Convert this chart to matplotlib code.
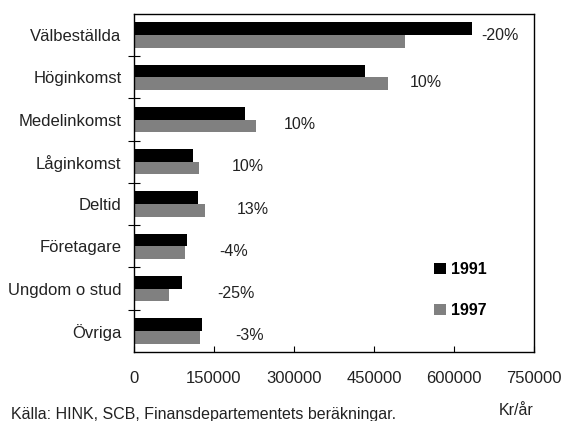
import matplotlib.pyplot as plt
from matplotlib.patches import Patch

plt.rcParams['font.family'] = ['Liberation Sans', 'DejaVu Sans']

# data
categories = ['Välbeställda', 'Höginkomst', 'Medelinkomst', 'Låginkomst',
              'Deltid', 'Företagare', 'Ungdom o stud', 'Övriga']
income_1991 = [633000, 433000, 208000, 110000, 120000, 99000, 90000, 127500]
income_1997 = [509000, 476000, 229000, 122000, 133000, 96000, 66000, 124000]
change_labels = ['-20%', '10%', '10%', '10%', '13%', '-4%', '-25%', '-3%']
x_ticks = [0, 150000, 300000, 450000, 600000, 750000]

# where the percentage labels sit (data x, offset in category units)
label_x = [652000, 517500, 281000, 183000, 193000, 159000, 157000, 189000]
label_dy = [0.02, 0.12, 0.12, 0.12, 0.12, 0.12, 0.12, 0.12]

fig = plt.figure(figsize=(5.63, 4.21), dpi=100)
ax = fig.add_axes([0.238, 0.164, 0.7105, 0.803])

pos = list(range(len(categories)))
bar_h = 0.3
ax.barh([p - bar_h / 2 for p in pos], income_1991, height=bar_h, color='black')
ax.barh([p + bar_h / 2 for p in pos], income_1997, height=bar_h, color='#808080')

for i, txt in enumerate(change_labels):
    ax.text(label_x[i], pos[i] + label_dy[i], txt, fontsize=11.5,
            va='center', ha='left', color='#222222')

ax.set_xlim(0, 750000)
ax.set_ylim(len(categories) - 0.5, -0.5)

ax.set_xticks(x_ticks)
ax.set_xticklabels([str(t) for t in x_ticks])
ax.tick_params(axis='x', direction='in', length=4, width=0.8, pad=14, labelsize=12,
               labelcolor='#222222')

# category names on minor ticks, boundary marks on major ticks
ax.set_yticks([p + 0.5 for p in pos[:-1]])
ax.set_yticklabels([])
ax.set_yticks(pos, minor=True)
ax.set_yticklabels(categories, minor=True)
ax.tick_params(axis='y', which='major', direction='inout', length=9, width=0.8)
ax.tick_params(axis='y', which='minor', length=0, pad=9, labelsize=12,
               labelcolor='#222222')

for s in ax.spines.values():
    s.set_linewidth(1.0)
    s.set_color('black')

handles = [Patch(facecolor='black', label='1991'),
           Patch(facecolor='#808080', label='1997')]
leg = ax.legend(handles=handles, loc='upper left', bbox_to_anchor=(0.75, 0.266),
                frameon=False, borderpad=0, borderaxespad=0,
                handlelength=0.72, handleheight=0.72, handletextpad=0.35,
                labelspacing=1.65, prop={'size': 11.5, 'weight': 'bold'})

fig.text(0.019, 0.0143, 'Källa: HINK, SCB, Finansdepartementets beräkningar.',
         fontsize=11.5, va='center', ha='left', color='#222222')
fig.text(0.917, 0.0245, 'Kr/år', fontsize=11.5, va='center', ha='center', color='#222222')

fig.savefig('out.png', dpi=100)
